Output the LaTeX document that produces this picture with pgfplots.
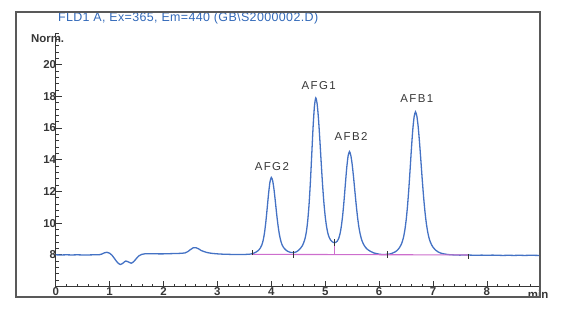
\documentclass[border=0pt]{standalone}
\usepackage{fontspec}
\setmainfont{Liberation Sans}
\newfontfamily\spaced[LetterSpace=12]{Liberation Sans}
\newfontfamily\ttlfont[LetterSpace=3]{Liberation Sans}
\usepackage{pgfplots}
\pgfplotsset{compat=1.18}
\definecolor{curve}{RGB}{68,114,196}
\definecolor{ttl}{RGB}{50,105,185}
\definecolor{integ}{RGB}{205,110,205}
\definecolor{lab}{RGB}{55,55,55}
\begin{document}
\begin{tikzpicture}
\path[use as bounding box] (0,0) rectangle (565bp,-309bp);
\begin{axis}[
  at={(55.7bp,-286.5bp)}, anchor=south west,
  scale only axis, width=483.5bp, height=253.6bp,
  xmin=0, xmax=8.97, ymin=6, ymax=22,
  enlargelimits=false,
  axis x line=bottom, axis y line=left,
  axis line style={-, lab, line width=0.9bp},
  xtick={0,1,2,3,4,5,6,7,8},
  minor xtick={0,0.2,...,8.9},
  ytick={8,10,12,14,16,18,20},
  minor ytick={6,6.4,...,21.9},
  tick align=inside,
  major tick length=6bp, minor tick length=3bp,
  tick style={lab, line width=0.7bp},
  /pgf/number format/assume math mode=true,
  ticklabel style={font=\fontsize{11.5}{12}\selectfont\bfseries, text=lab, inner sep=0pt},
  xticklabel style={anchor=north, yshift=-1bp},
  yticklabel style={anchor=east, xshift=0.5bp},
  clip=false,
]
\addplot[curve, line width=1.3bp, smooth, tension=0.4] table {
0.00 8.00
0.10 7.99
0.20 8.00
0.30 7.99
0.40 8.00
0.50 7.99
0.60 7.99
0.70 8.00
0.80 8.00
0.85 8.04
0.90 8.12
0.95 8.16
1.00 8.10
1.05 7.95
1.10 7.72
1.15 7.50
1.20 7.39
1.25 7.48
1.30 7.61
1.35 7.55
1.40 7.47
1.45 7.58
1.50 7.78
1.55 7.95
1.60 8.03
1.65 8.06
1.70 8.07
1.80 8.07
1.90 8.06
2.00 8.06
2.10 8.07
2.20 8.08
2.30 8.09
2.40 8.12
2.45 8.20
2.50 8.33
2.55 8.44
2.60 8.45
2.65 8.38
2.70 8.27
2.80 8.15
2.90 8.09
3.00 8.06
3.10 8.04
3.20 8.03
3.30 8.02
3.40 8.02
3.50 8.02
3.55 8.03
3.60 8.04
3.65 8.07
3.70 8.14
3.725 8.19
3.75 8.25
3.775 8.33
3.80 8.45
3.825 8.63
3.85 8.93
3.875 9.42
3.90 10.12
3.925 10.99
3.95 11.89
3.975 12.59
4.00 12.88
4.025 12.68
4.05 12.12
4.075 11.36
4.10 10.55
4.125 9.84
4.15 9.28
4.175 8.89
4.20 8.63
4.225 8.47
4.25 8.37
4.275 8.29
4.30 8.23
4.325 8.19
4.35 8.16
4.375 8.14
4.40 8.14
4.425 8.15
4.45 8.17
4.475 8.21
4.50 8.27
4.525 8.35
4.55 8.45
4.575 8.57
4.60 8.76
4.625 9.02
4.65 9.44
4.675 10.13
4.70 11.16
4.725 12.59
4.75 14.32
4.775 16.06
4.80 17.37
4.825 17.90
4.85 17.53
4.875 16.59
4.90 15.28
4.925 13.84
4.95 12.47
4.975 11.31
5.00 10.42
5.025 9.78
5.05 9.35
5.075 9.09
5.10 8.93
5.125 8.84
5.15 8.78
5.175 8.77
5.20 8.79
5.225 8.87
5.25 9.03
5.275 9.33
5.30 9.82
5.325 10.52
5.35 11.45
5.375 12.51
5.40 13.52
5.425 14.24
5.45 14.51
5.475 14.27
5.50 13.71
5.525 12.92
5.55 12.03
5.575 11.15
5.60 10.37
5.625 9.74
5.65 9.29
5.675 8.96
5.70 8.74
5.725 8.58
5.75 8.46
5.775 8.37
5.80 8.30
5.85 8.20
5.90 8.12
5.95 8.08
6.00 8.04
6.05 8.02
6.10 8.02
6.15 8.03
6.20 8.05
6.25 8.11
6.30 8.19
6.325 8.25
6.35 8.33
6.375 8.44
6.40 8.58
6.425 8.78
6.45 9.07
6.475 9.51
6.50 10.14
6.525 11.00
6.55 12.10
6.575 13.39
6.60 14.73
6.625 15.91
6.65 16.72
6.675 17.02
6.70 16.75
6.725 16.07
6.75 15.08
6.775 13.93
6.80 12.75
6.825 11.66
6.85 10.74
6.875 10.01
6.90 9.47
6.925 9.07
6.95 8.81
6.975 8.62
7.00 8.48
7.05 8.29
7.10 8.17
7.15 8.10
7.20 8.06
7.25 8.03
7.30 8.01
7.35 8.00
7.40 7.99
7.50 7.98
7.60 7.99
7.70 7.98
7.80 7.97
7.90 7.98
8.00 7.97
8.10 7.98
8.20 7.97
8.30 7.96
8.40 7.97
8.50 7.96
8.60 7.97
8.70 7.96
8.80 7.97
8.97 7.96
};
% integration baseline
\addplot[integ, line width=1.1bp] coordinates {(3.64,8.03) (7.66,7.99)};
\addplot[integ, line width=1.1bp] coordinates {(5.17,8.02) (5.17,8.77)};
% integration tick marks
\addplot[black!80, line width=0.8bp] coordinates {(3.64,7.98) (3.64,8.28)};
\addplot[black!80, line width=0.8bp] coordinates {(4.41,7.82) (4.41,8.25)};
\addplot[black!80, line width=0.8bp] coordinates {(5.17,8.55) (5.17,8.98)};
\addplot[black!80, line width=0.8bp] coordinates {(6.16,7.82) (6.16,8.22)};
\addplot[black!80, line width=0.8bp] coordinates {(7.66,7.75) (7.66,8.02)};
% peak labels
\node[text=black!78, font=\fontsize{11.5}{12}\selectfont\spaced] at (axis cs:4.01,13.55) {AFG2};
\node[text=black!78, font=\fontsize{11.5}{12}\selectfont\spaced] at (axis cs:4.88,18.66) {AFG1};
\node[text=black!78, font=\fontsize{11.5}{12}\selectfont\spaced] at (axis cs:5.48,15.44) {AFB2};
\node[text=black!78, font=\fontsize{11.5}{12}\selectfont\spaced] at (axis cs:6.70,17.86) {AFB1};
% axis labels and title
\node[text=lab, font=\fontsize{11.5}{12}\selectfont\bfseries] at (axis cs:-0.15,21.65) {Norm.};
\node[text=lab, font=\fontsize{11.5}{12}\selectfont\bfseries] at (axis cs:8.95,5.51) {min};
\node[text=ttl, anchor=west, inner sep=0pt, font=\fontsize{12.5}{13}\selectfont\ttlfont] at (axis cs:0.04,22.9) {FLD1 A, Ex=365, Em=440 (GB\textbackslash S2000002.D)};
\end{axis}
\draw[gray!70!black, line width=1.3bp] (16bp,-12bp) rectangle (540bp,-297bp);
\end{tikzpicture}
\end{document}
